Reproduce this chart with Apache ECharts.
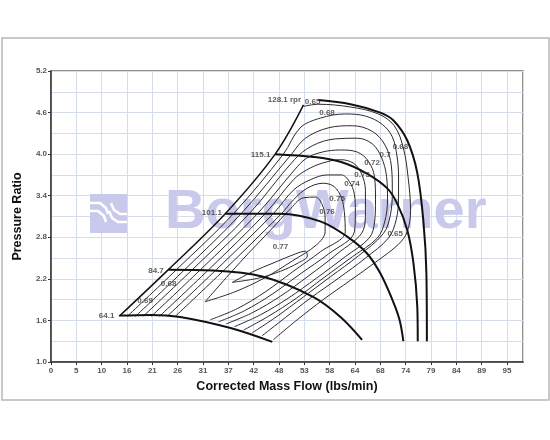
<!DOCTYPE html>
<html><head><meta charset="utf-8">
<script src="https://cdn.jsdelivr.net/npm/echarts@6/dist/echarts.min.js"></script>
<style>html,body{margin:0;padding:0;background:#fff}#c{width:550px;height:440px}</style>
</head><body><div id="c"></div>
<script>
// ---- axis tick labels ----
const xTickLabels = ['0','5','10','16','21','26','31','37','42','48','53','58','64','68','74','79','84','89','95'];
const yTickValues = [1.0,1.6,2.2,2.8,3.4,4.0,4.6,5.2];

// ---- surge line [mass flow lbs/min, pressure ratio] ----
const surgeLine = [[14.2,1.66],[24.4,2.33],[36.3,3.14],[46.7,4.0],[52.6,4.71]];

// ---- speed lines ----
const speed64 = [[14.3,1.67],[20.7,1.68],[26.9,1.65],[37.4,1.49],[46.1,1.29]];
const speed84 = [[24.5,2.33],[33.8,2.32],[44.2,2.23],[54.6,1.94],[60.3,1.65],[64.8,1.32]];
const speed101 = [[36.3,3.14],[47.8,3.14],[56.1,3.03],[61.7,2.81],[65.8,2.57],[68.6,2.28],[71.1,1.90],[72.6,1.61],[73.4,1.30]];
const speed115 = [[46.7,4.0],[54.7,3.96],[60.3,3.89],[65.8,3.72],[70.0,3.51],[72.1,3.29],[74.2,2.91],[75.5,2.43],[76.3,1.80],[76.4,1.30]];
const speed128 = [[55.7,4.78],[62.4,4.72],[68.6,4.60],[71.3,4.49],[74.2,4.20],[76.3,3.73],[77.6,3.01],[78.2,2.28],[78.3,1.30]];
const speedNames = ['64.1','84.7','101.1','115.1','128.1 rpr'];

// ---- efficiency contours ----
const eff065 = [[52.6,4.69],[55.7,4.72],[62.4,4.68],[68.2,4.58],[71.5,4.41],[73.4,4.09],[74.4,3.66],[74.9,3.19],[74.2,2.88],[72.4,2.70],[67.6,2.44],[62.4,2.18],[56.7,1.90],[51.3,1.61],[46.3,1.32]];
const eff068 = [[15.9,1.66],[26.1,2.33],[38.0,3.14],[48.4,4.0],[51.9,4.38],[56.1,4.52],[61.3,4.58],[65.5,4.55],[69.0,4.43],[71.1,4.25],[72.1,3.96],[72.4,3.67],[72.4,3.38],[71.9,3.05],[70.3,2.79],[65.5,2.50],[59.9,2.21],[54.0,1.92],[48.8,1.64],[44.0,1.38]];
const eff069 = [[17.6,1.66],[27.8,2.33],[39.6,3.14],[50.1,4.0],[53.0,4.23],[57.8,4.38],[62.8,4.41],[66.9,4.33],[69.6,4.13],[70.9,3.83],[71.1,3.48],[70.7,3.12],[69.2,2.85],[64.0,2.53],[58.2,2.23],[52.6,1.94],[46.9,1.65],[41.9,1.42]];
const eff070 = [[19.2,1.66],[29.4,2.33],[41.3,3.14],[50.7,3.92],[54.4,4.12],[59.2,4.22],[63.8,4.23],[66.9,4.15],[68.8,3.96],[69.9,3.68],[70.1,3.34],[69.5,3.02],[68.0,2.79],[62.8,2.52],[56.7,2.21],[51.1,1.92],[45.3,1.66],[40.1,1.46]];
const eff072 = [[20.9,1.66],[31.1,2.33],[43.0,3.14],[50.7,3.77],[53.2,3.94],[56.5,4.03],[60.3,4.06],[63.8,4.03],[66.1,3.90],[67.4,3.67],[67.6,3.34],[67.4,3.02],[66.3,2.79],[61.3,2.52],[55.3,2.21],[49.4,1.92],[43.6,1.68],[38.2,1.51]];
const eff073 = [[22.6,1.66],[32.8,2.33],[44.6,3.14],[50.5,3.63],[53.2,3.77],[56.5,3.87],[60.3,3.92],[63.0,3.87],[64.6,3.73],[65.5,3.48],[65.5,3.17],[65.1,2.91],[59.6,2.56],[53.6,2.24],[47.8,1.95],[41.9,1.71],[36.5,1.55]];
const eff074 = [[24.2,1.66],[34.4,2.33],[46.3,3.14],[50.5,3.48],[54.0,3.63],[57.6,3.70],[60.5,3.70],[62.1,3.61],[63.2,3.42],[63.4,3.17],[63.2,2.88],[57.8,2.56],[51.9,2.27],[46.1,1.98],[40.3,1.74],[34.9,1.58]];
const eff075 = [[25.9,1.66],[36.1,2.33],[48.0,3.14],[50.5,3.34],[53.4,3.51],[56.7,3.58],[59.0,3.53],[60.5,3.37],[61.1,3.17],[61.3,2.88],[56.1,2.59],[50.3,2.30],[44.6,2.01],[38.8,1.77],[33.2,1.61]];
const eff076 = [[32.1,1.87],[39.4,2.44],[46.1,2.93],[49.6,3.19],[52.6,3.37],[55.1,3.38],[56.5,3.27],[57.1,3.08],[57.1,2.88],[55.3,2.69],[50.3,2.46],[44.4,2.21],[38.2,2.01],[32.1,1.87]];
const eff077 = [[37.8,2.15],[41.9,2.30],[46.7,2.44],[50.9,2.56],[53.0,2.60],[53.4,2.53],[51.5,2.43],[47.8,2.31],[43.2,2.21],[37.8,2.15]];

// ---- labels: [text, flow, pressure ratio] ----
const effLabels = [
  ['0.65',54.5,4.76],['0.68',57.5,4.60],['0.68',72.8,4.11],['0.7',69.6,3.99],['0.72',66.9,3.87],
  ['0.73',64.8,3.70],['0.74',62.7,3.57],['0.75',59.6,3.36],['0.76',57.5,3.17],['0.77',47.8,2.66],
  ['0.65',71.7,2.85],['0.68',24.5,2.13],['0.69',19.6,1.89]
];
const speedLabelPos = [[13.2,1.66],[23.5,2.32],[35.6,3.15],[45.7,3.99],[52.1,4.79]];

const xStep = 95/18;
const chart = echarts.init(document.getElementById('c'), null, {renderer:'canvas'});
const FONT = '"Liberation Sans", Arial, sans-serif';

function line(data, width, color, z){
  return {type:'line', data, symbol:'none', smooth:0.35, silent:true, animation:false,
    lineStyle:{color, width}, z};
}
const speedSeries = [speed64, speed84, speed101, speed115, speed128].map(d=>line(d,2,'#111',4));
const effSeries = [eff065,eff068,eff069,eff070,eff072,eff073,eff074,eff075,eff076,eff077].map(d=>line(d,1,'#2a2a2a',3));

const option = {
  animation:false,
  grid:{left:51, top:71, right:27, bottom:78, show:true, borderColor:'#707070', borderWidth:1.5},
  xAxis:{type:'value', min:0, max:18.63*xStep, interval:xStep,
    axisLine:{lineStyle:{color:'#333', width:1.5}},
    axisTick:{length:3, lineStyle:{color:'#333'}},
    axisLabel:{fontFamily:FONT, fontSize:8, fontWeight:'bold', color:'#555', margin:5, showMaxLabel:false,
      formatter:v=>{const i=Math.round(v/xStep); return (i<xTickLabels.length && Math.abs(v-i*xStep)<0.01)?xTickLabels[i]:'';}},
    splitLine:{lineStyle:{color:'#d5dde8', width:1}},
    name:'Corrected Mass Flow (lbs/min)', nameLocation:'middle', nameGap:15,
    nameTextStyle:{fontFamily:FONT, fontSize:12.5, fontWeight:'bold', color:'#111', verticalAlign:'top'}
  },
  yAxis:{type:'value', min:yTickValues[0], max:yTickValues[yTickValues.length-1], interval:0.6,
    axisLine:{show:true, lineStyle:{color:'#333', width:1.5}},
    axisTick:{show:true, length:3, lineStyle:{color:'#333'}},
    minorTick:{show:false, splitNumber:2},
    minorSplitLine:{show:true, lineStyle:{color:'#d5dde8', width:1}},
    axisLabel:{fontFamily:FONT, fontSize:8, fontWeight:'bold', color:'#555', margin:4, formatter:v=>v.toFixed(1)},
    splitLine:{lineStyle:{color:'#d5dde8', width:1}},
    name:'Pressure Ratio', nameLocation:'middle', nameGap:27,
    nameTextStyle:{fontFamily:FONT, fontSize:12.5, fontWeight:'bold', color:'#111'}
  },
  graphic:[
    {type:'rect', z:0, shape:{x:2, y:38, width:547, height:362}, style:{fill:'none', stroke:'#b8b8b8', lineWidth:1.5}},
    {type:'text', z:1, x:165, y:213, style:{text:'BorgWarner', font:'bold 56px "Liberation Sans", Arial', fill:'#c9c9ec', verticalAlign:'middle'}},
    {type:'rect', z:1, shape:{x:90, y:194, width:37, height:39}, style:{fill:'#c9c9ec'}},
    {type:'polyline', z:1, shape:{points:[[90,203],[100,203],[106,208],[108,214]]}, style:{stroke:'#fff', lineWidth:2.5, fill:'none'}},
    {type:'polyline', z:1, shape:{points:[[90,211],[98,211],[104,216],[106,222]]}, style:{stroke:'#fff', lineWidth:2.5, fill:'none'}},
    {type:'polyline', z:1, shape:{points:[[111,203],[114,210],[120,214],[127,214]]}, style:{stroke:'#fff', lineWidth:2.5, fill:'none'}},
    {type:'polyline', z:1, shape:{points:[[109,211],[112,218],[118,222],[127,222]]}, style:{stroke:'#fff', lineWidth:2.5, fill:'none'}}
  ],
  series:[
    line(surgeLine,1.5,'#111',4),
    ...speedSeries,
    ...effSeries,
    {type:'scatter', symbolSize:0, silent:true, z:6,
      data:effLabels.map(l=>({name:l[0], value:[l[1],l[2]]})),
      label:{show:true, position:'inside', formatter:p=>p.name, fontFamily:FONT, fontSize:8, fontWeight:'bold', color:'#333'}},
    {type:'scatter', symbolSize:0, silent:true, z:6,
      data:speedLabelPos.map((p,i)=>({name:speedNames[i], value:p})),
      label:{show:true, position:'left', distance:0, formatter:p=>p.name, fontFamily:FONT, fontSize:8, fontWeight:'bold', color:'#333'}}
  ]
};
chart.setOption(option);
</script></body></html>
